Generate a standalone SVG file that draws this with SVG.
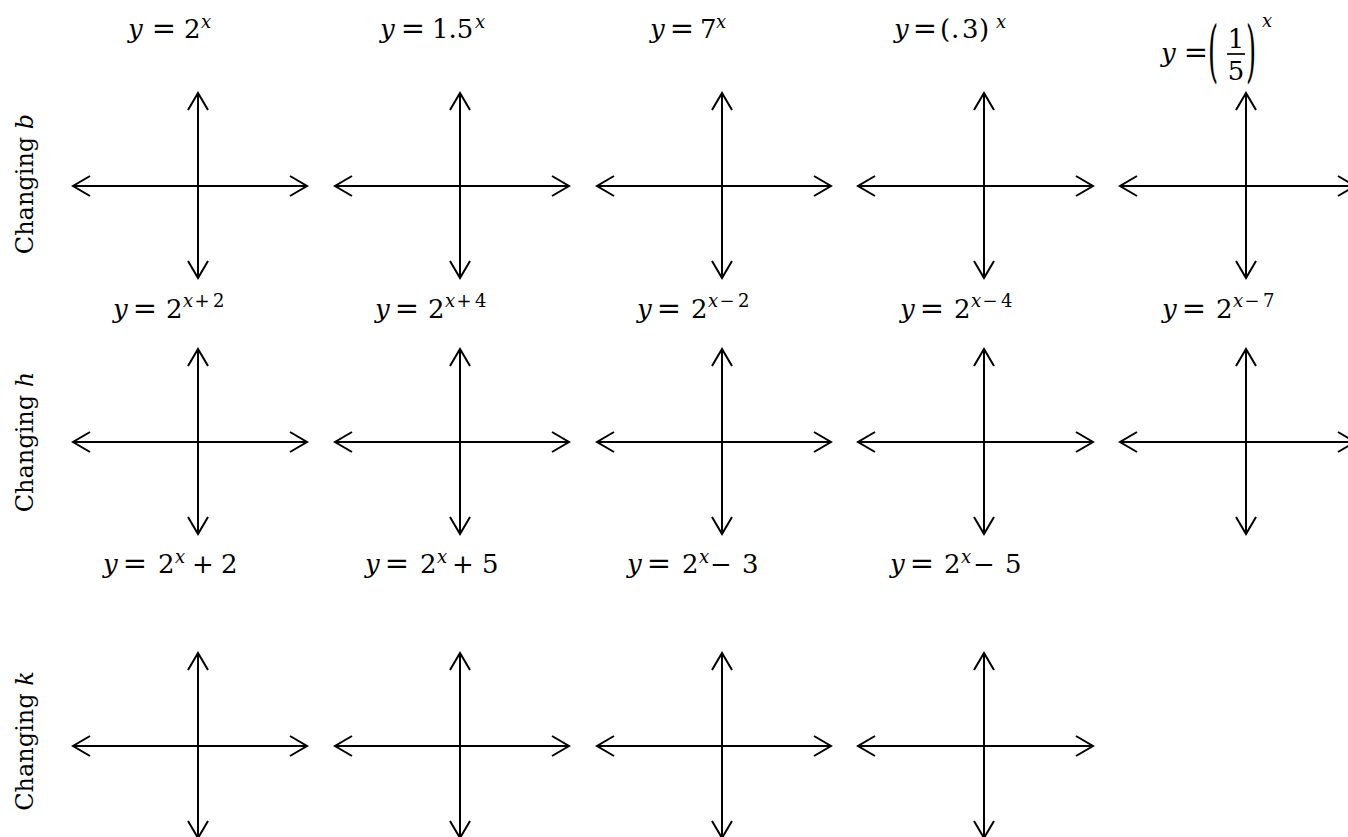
<svg xmlns="http://www.w3.org/2000/svg" width="1348" height="837" viewBox="0 0 1348 837">
<style>
.ax{stroke:#000;stroke-width:2;fill:none;marker-start:url(#ah);marker-end:url(#ah)}
.t{font-family:"DejaVu Serif","Liberation Serif",serif;font-size:24px;fill:#000}
.e{font-family:"DejaVu Serif","Liberation Serif",serif;font-size:26px;fill:#000}
.i{font-style:italic}
.s{font-size:18px}
.m{text-anchor:middle}
.q{text-anchor:middle;font-size:29px}
.bar{stroke:#000;stroke-width:1.7}
</style>
<defs>
<marker id="ah" markerUnits="userSpaceOnUse" markerWidth="30" markerHeight="30" viewBox="-25 -15 30 30" refX="0" refY="0" orient="auto-start-reverse" overflow="visible">
<path d="M-17,-10 L0,0 L-17,10" fill="none" stroke="#000" stroke-width="2"/>
</marker>
</defs>
<rect width="1348" height="837" fill="#fff"/>

<g id="row-labels">
<text class="t" transform="translate(33,184) rotate(-90)" text-anchor="middle">Changing <tspan class="i">b</tspan></text>
<text class="t" transform="translate(33,442) rotate(-90)" text-anchor="middle">Changing <tspan class="i">h</tspan></text>
<text class="t" transform="translate(33,741) rotate(-90)" text-anchor="middle">Changing <tspan class="i">k</tspan></text>
</g>

<g id="connectors">
<line class="ax" x1="73" y1="186" x2="307" y2="186"/><line class="ax" x1="198" y1="93" x2="198" y2="278"/>
<line class="ax" x1="335" y1="186" x2="569" y2="186"/><line class="ax" x1="460" y1="93" x2="460" y2="278"/>
<line class="ax" x1="597" y1="186" x2="831" y2="186"/><line class="ax" x1="722" y1="93" x2="722" y2="278"/>
<line class="ax" x1="858" y1="186" x2="1093" y2="186"/><line class="ax" x1="984" y1="93" x2="984" y2="278"/>
<line class="ax" x1="1120" y1="186" x2="1355" y2="186"/><line class="ax" x1="1246" y1="93" x2="1246" y2="278"/>
<line class="ax" x1="73" y1="442" x2="307" y2="442"/><line class="ax" x1="198" y1="349" x2="198" y2="534"/>
<line class="ax" x1="335" y1="442" x2="569" y2="442"/><line class="ax" x1="460" y1="349" x2="460" y2="534"/>
<line class="ax" x1="597" y1="442" x2="831" y2="442"/><line class="ax" x1="722" y1="349" x2="722" y2="534"/>
<line class="ax" x1="858" y1="442" x2="1093" y2="442"/><line class="ax" x1="984" y1="349" x2="984" y2="534"/>
<line class="ax" x1="1120" y1="442" x2="1355" y2="442"/><line class="ax" x1="1246" y1="349" x2="1246" y2="534"/>
<line class="ax" x1="73" y1="746" x2="307" y2="746"/><line class="ax" x1="198" y1="653" x2="198" y2="838"/>
<line class="ax" x1="335" y1="746" x2="569" y2="746"/><line class="ax" x1="460" y1="653" x2="460" y2="838"/>
<line class="ax" x1="597" y1="746" x2="831" y2="746"/><line class="ax" x1="722" y1="653" x2="722" y2="838"/>
<line class="ax" x1="858" y1="746" x2="1093" y2="746"/><line class="ax" x1="984" y1="653" x2="984" y2="838"/>
</g>

<!-- Row 1: changing b -->
<g id="b1"><text class="e"><tspan class="i" x="128" y="38">y</tspan><tspan class="q" x="164" y="38">=</tspan><tspan x="184" y="38">2</tspan><tspan class="i s" x="201" y="28">x</tspan></text></g>
<g id="b2"><text class="e"><tspan class="i" x="380" y="38">y</tspan><tspan class="q" x="413" y="38">=</tspan><tspan x="432" y="38">1.5</tspan><tspan class="i s" x="475" y="28">x</tspan></text></g>
<g id="b3"><text class="e"><tspan class="i" x="650" y="38">y</tspan><tspan class="q" x="682" y="38">=</tspan><tspan x="700" y="38">7</tspan><tspan class="i s" x="716" y="28">x</tspan></text></g>
<g id="b4"><text class="e"><tspan class="i" x="894" y="38">y</tspan><tspan class="q" x="925" y="38">=</tspan><tspan x="940" y="38">(</tspan><tspan x="951" y="38">.</tspan><tspan x="962" y="38">3</tspan><tspan x="979" y="38">)</tspan><tspan class="i s" x="996" y="28">x</tspan></text></g>
<g id="b5">
<text class="e"><tspan class="i" x="1161" y="62">y</tspan><tspan class="q" x="1196" y="62">=</tspan></text>
<text class="e" transform="translate(1208,74) scale(1,2.6)">(</text>
<text class="e m" x="1236" y="48">1</text>
<line class="bar" x1="1227" y1="54" x2="1245" y2="54"/>
<text class="e m" x="1236" y="80">5</text>
<text class="e" transform="translate(1246,74) scale(1,2.6)">)</text>
<text class="e i s" x="1262" y="27">x</text>
</g>

<!-- Row 2: changing h -->
<g id="h1"><text class="e"><tspan class="i" x="113" y="318">y</tspan><tspan class="q" x="145" y="318">=</tspan><tspan x="166" y="318">2</tspan><tspan class="s" y="307"><tspan class="i" x="183">x</tspan><tspan class="m" x="202">+</tspan><tspan x="213">2</tspan></tspan></text></g>
<g id="h2"><text class="e"><tspan class="i" x="375" y="318">y</tspan><tspan class="q" x="407" y="318">=</tspan><tspan x="428" y="318">2</tspan><tspan class="s" y="307"><tspan class="i" x="445">x</tspan><tspan class="m" x="464">+</tspan><tspan x="475">4</tspan></tspan></text></g>
<g id="h3"><text class="e"><tspan class="i" x="637" y="318">y</tspan><tspan class="q" x="669" y="318">=</tspan><tspan x="691" y="318">2</tspan><tspan class="s" y="307"><tspan class="i" x="708">x</tspan><tspan class="m" x="727">−</tspan><tspan x="738">2</tspan></tspan></text></g>
<g id="h4"><text class="e"><tspan class="i" x="900" y="318">y</tspan><tspan class="q" x="932" y="318">=</tspan><tspan x="954" y="318">2</tspan><tspan class="s" y="307"><tspan class="i" x="971">x</tspan><tspan class="m" x="990">−</tspan><tspan x="1001">4</tspan></tspan></text></g>
<g id="h5"><text class="e"><tspan class="i" x="1162" y="318">y</tspan><tspan class="q" x="1194" y="318">=</tspan><tspan x="1216" y="318">2</tspan><tspan class="s" y="307"><tspan class="i" x="1233">x</tspan><tspan class="m" x="1252">−</tspan><tspan x="1263">7</tspan></tspan></text></g>

<!-- Row 3: changing k -->
<g id="k1"><text class="e"><tspan class="i" x="103" y="573">y</tspan><tspan class="q" x="135" y="573">=</tspan><tspan x="158" y="573">2</tspan><tspan class="i s" x="175" y="563">x</tspan><tspan class="m" x="203" y="573">+</tspan><tspan x="221" y="573">2</tspan></text></g>
<g id="k2"><text class="e"><tspan class="i" x="365" y="573">y</tspan><tspan class="q" x="397" y="573">=</tspan><tspan x="420" y="573">2</tspan><tspan class="i s" x="437" y="563">x</tspan><tspan class="m" x="463" y="573">+</tspan><tspan x="482" y="573">5</tspan></text></g>
<g id="k3"><text class="e"><tspan class="i" x="627" y="573">y</tspan><tspan class="q" x="659" y="573">=</tspan><tspan x="682" y="573">2</tspan><tspan class="i s" x="699" y="563">x</tspan><tspan class="m" x="721" y="573">−</tspan><tspan x="742" y="573">3</tspan></text></g>
<g id="k4"><text class="e"><tspan class="i" x="890" y="573">y</tspan><tspan class="q" x="922" y="573">=</tspan><tspan x="944" y="573">2</tspan><tspan class="i s" x="961" y="563">x</tspan><tspan class="m" x="984" y="573">−</tspan><tspan x="1005" y="573">5</tspan></text></g>
</svg>
